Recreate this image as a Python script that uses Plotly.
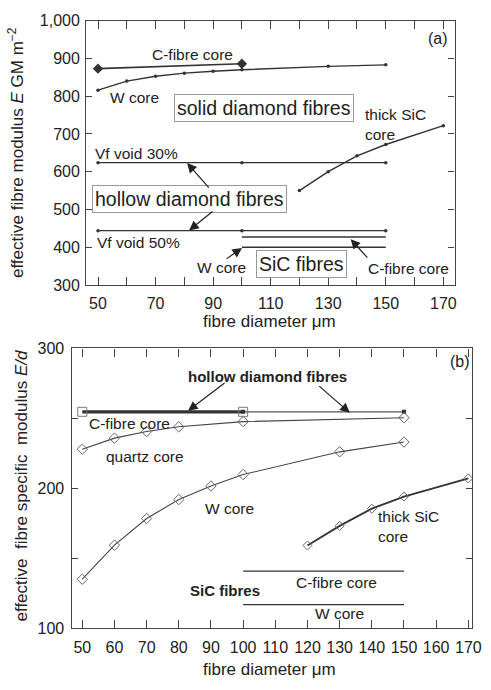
import plotly.graph_objects as go

W, H = 491, 690

# ---------------- data: panel (a) ----------------
a_cfibre_x = [50, 100]
a_cfibre_y = [873, 886]
a_wcore_x = [50, 60, 70, 80, 90, 100, 130, 150]
a_wcore_y = [816, 840, 853, 861, 866, 870, 879, 883]
a_void30_x = [50, 100, 150]
a_void30_y = [624, 624, 624]
a_void50_x = [50, 100, 150]
a_void50_y = [444, 444, 444]
a_sic_cf_x = [100, 150]
a_sic_cf_y = [427, 427]
a_sic_w_x = [100, 150]
a_sic_w_y = [400, 400]
a_thick_x = [120, 130, 140, 150, 170]
a_thick_y = [550, 600, 642, 672, 722]

a_xticks = [50, 60, 70, 80, 90, 100, 110, 120, 130, 140, 150, 160, 170]
a_xlabels = ["50", " ", "70", " ", "90", " ", "110", " ", "130", " ", "150", " ", "170"]
a_yticks = [300, 400, 500, 600, 700, 800, 900, 1000]
a_ylabels = ["300", "400", "500", "600", "700", "800", "900", "1,000"]

# ---------------- data: panel (b) ----------------
b_hollow_cf_x = [50, 100]
b_hollow_cf_y = [254.7, 254.7]
b_hollow_ext_x = [100, 150]
b_hollow_ext_y = [254.7, 254.7]
b_quartz_x = [50, 60, 70, 80, 100, 150]
b_quartz_y = [228, 235.9, 240.6, 244, 247.7, 250.5]
b_wcore_x = [50, 60, 70, 80, 90, 100, 130, 150]
b_wcore_y = [135.1, 159.4, 178.5, 192, 201.7, 209.9, 226.1, 233.1]
b_thick_x = [120, 130, 140, 150, 170]
b_thick_y = [159.2, 173.2, 185.5, 194.1, 207.1]
b_sic_cf_x = [100, 150]
b_sic_cf_y = [140.9, 140.9]
b_sic_w_x = [100, 150]
b_sic_w_y = [117, 117]

b_xticks = list(range(50, 171, 10))
b_xlabels = [str(v) for v in b_xticks]
b_yticks = [100, 150, 200, 250, 300]
b_ylabels = ["100", " ", "200", " ", "300"]

FONT = "Liberation Sans, Arial, Helvetica, sans-serif"
INK = "#222222"
LINE = "#333333"


def P(px):
    return px / W


def Q(py):
    return 1 - py / H


fig = go.Figure()

# panel (a) traces
fig.add_trace(go.Scatter(x=a_cfibre_x, y=a_cfibre_y, mode="lines+markers",
                         line=dict(color=LINE, width=1.6),
                         marker=dict(symbol="diamond", size=8, color=LINE),
                         xaxis="x", yaxis="y"))
for xs, ys in [(a_wcore_x, a_wcore_y), (a_void30_x, a_void30_y),
               (a_void50_x, a_void50_y), (a_thick_x, a_thick_y)]:
    fig.add_trace(go.Scatter(x=xs, y=ys, mode="lines+markers",
                             line=dict(color=LINE, width=1.4),
                             marker=dict(symbol="circle", size=3.5, color=LINE),
                             xaxis="x", yaxis="y"))
for xs, ys in [(a_sic_cf_x, a_sic_cf_y), (a_sic_w_x, a_sic_w_y)]:
    fig.add_trace(go.Scatter(x=xs, y=ys, mode="lines",
                             line=dict(color=LINE, width=1.4),
                             xaxis="x", yaxis="y"))

# panel (b) traces
fig.add_trace(go.Scatter(x=b_hollow_ext_x, y=b_hollow_ext_y, mode="lines+markers",
                         line=dict(color="#555555", width=1.2),
                         marker=dict(symbol="square", size=4, color=LINE),
                         xaxis="x2", yaxis="y2"))
fig.add_trace(go.Scatter(x=b_hollow_cf_x, y=b_hollow_cf_y, mode="lines+markers",
                         line=dict(color=LINE, width=3.2),
                         marker=dict(symbol="square-open", size=9, color="#777777",
                                     line=dict(width=1)),
                         xaxis="x2", yaxis="y2"))
for xs, ys in [(b_quartz_x, b_quartz_y), (b_wcore_x, b_wcore_y)]:
    fig.add_trace(go.Scatter(x=xs, y=ys, mode="lines+markers",
                             line=dict(color="#444444", width=1.1),
                             marker=dict(symbol="diamond-open", size=8, color="#666666",
                                         line=dict(width=1)),
                             xaxis="x2", yaxis="y2"))
fig.add_trace(go.Scatter(x=b_thick_x, y=b_thick_y, mode="lines+markers",
                         line=dict(color=LINE, width=1.8),
                         marker=dict(symbol="diamond-open", size=7, color="#666666",
                                     line=dict(width=1)),
                         xaxis="x2", yaxis="y2"))
for xs, ys in [(b_sic_cf_x, b_sic_cf_y), (b_sic_w_x, b_sic_w_y)]:
    fig.add_trace(go.Scatter(x=xs, y=ys, mode="lines",
                             line=dict(color=LINE, width=1.3),
                             xaxis="x2", yaxis="y2"))

axis_common = dict(showline=True, linecolor="#444444", linewidth=1.2, mirror="ticks",
                   ticks="inside", tickcolor="#444444", showgrid=False, zeroline=False,
                   tickfont=dict(family=FONT, size=16, color=INK))

fig.update_layout(
    width=W, height=H, margin=dict(l=0, r=0, t=0, b=0),
    paper_bgcolor="white", plot_bgcolor="white", showlegend=False,
    font=dict(family=FONT, color=INK),
    xaxis=dict(domain=[P(88), P(464)], range=[45.9, 173.9], anchor="y",
               tickmode="array", tickvals=a_xticks, ticktext=a_xlabels, ticklen=8,
               ticklabelstandoff=4, **axis_common),
    yaxis=dict(domain=[Q(284), Q(13)], range=[300, 1000], anchor="x",
               tickmode="array", tickvals=a_yticks, ticktext=a_ylabels, ticklen=6,
               ticklabelstandoff=2, **axis_common),
    xaxis2=dict(domain=[P(73), P(482)], range=[46.65, 171.2], anchor="y2",
                tickmode="array", tickvals=b_xticks, ticktext=b_xlabels, ticklen=8,
                ticklabelstandoff=4, **axis_common),
    yaxis2=dict(domain=[Q(636), Q(349)], range=[100, 300], anchor="x2",
                tickmode="array", tickvals=b_yticks, ticktext=b_ylabels, ticklen=6,
                ticklabelstandoff=3, **axis_common),
)

ann = []


def text(px, py, s, size=15.5, bold=False, box=False, xanchor="center", align="center", angle=0):
    d = dict(x=P(px), y=Q(py), xref="paper", yref="paper", text=s, showarrow=False,
             xanchor=xanchor, yanchor="middle", align=align, textangle=angle,
             font=dict(family=FONT, size=size, color=INK))
    if bold:
        d["text"] = "<b>" + s + "</b>"
    if box:
        d.update(bordercolor="#999999", borderwidth=1, borderpad=2, bgcolor="white")
    ann.append(d)


def arrow(hx, hy, tx, ty):
    ann.append(dict(x=P(hx), y=Q(hy), xref="paper", yref="paper", text="",
                    showarrow=True, ax=tx - hx, ay=ty - hy, arrowhead=2,
                    arrowsize=1.6, arrowwidth=1.2, arrowcolor="#222222"))


# panel (a) labels
text(196, 48, "C-fibre core")
text(137, 92, "W core")
text(269, 103, "solid diamond fibres", size=19.5, box=True)
text(371, 119, "thick SiC<br>core", xanchor="left", align="left")
text(139, 149, "Vf void 30%")
text(193, 196, "hollow diamond fibres", size=19.5, box=True)
text(141, 240, "Vf void 50%")
text(226, 266, "W core")
text(308, 262, "SiC fibres", size=19.5, box=True)
text(417, 267, "C-fibre core")
text(447, 31, "(a)", size=16)
arrow(191, 159, 214, 185)
arrow(193, 228, 218, 208)
arrow(247, 246, 230, 258)
arrow(358, 237, 376, 257)
text(275, 321, "fibre diameter μm", size=17)
text(17, 148, "effective fibre modulus <i>E</i> GM m<sup>−2</sup>", size=17, angle=-90)

# panel (b) labels
text(273, 378, "hollow diamond fibres", size=15, bold=True)
text(132, 426, "C-fibre core")
text(148, 460, "quartz core")
text(234, 513, "W core")
text(384, 532, "thick SiC<br>core", xanchor="left", align="left")
text(230, 597, "SiC fibres", size=15, bold=True)
text(344, 589, "C-fibre core")
text(347, 621, "W core")
text(470, 362, "(b)", size=16)
arrow(192, 413, 230, 384)
arrow(357, 415, 325, 387)
text(275, 678, "fibre diameter μm", size=17)
text(22, 490, "effective&nbsp; fibre specific&nbsp; modulus <i>E/d</i>", size=17, angle=-90)

fig.update_layout(annotations=ann)

fig.write_html("out.html")
